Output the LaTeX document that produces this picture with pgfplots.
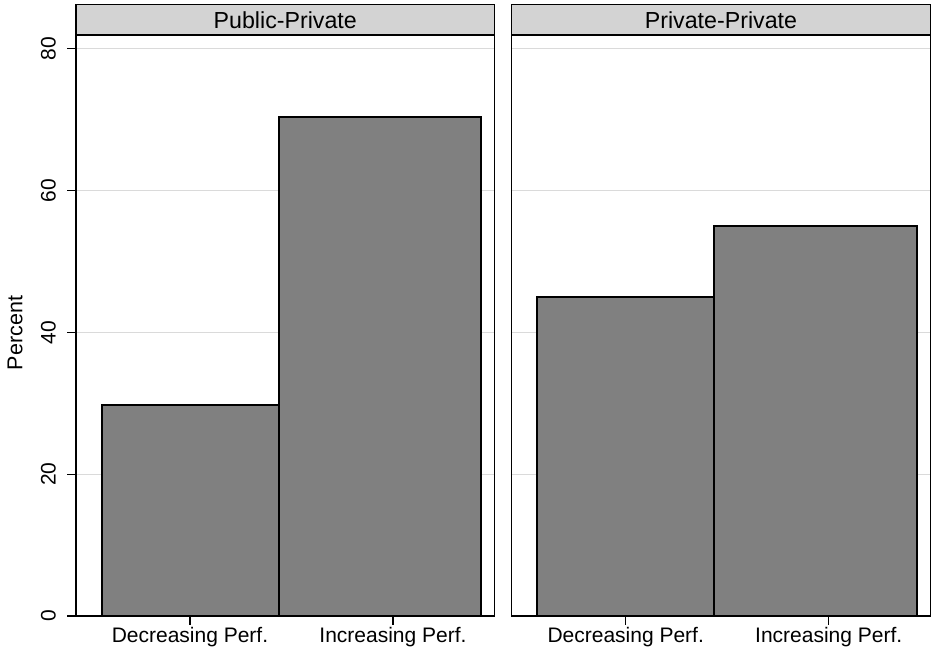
\documentclass[border=0pt]{standalone}
\usepackage{fontspec}
\setmainfont{Liberation Sans}
\usepackage{pgfplots}
\pgfplotsset{compat=1.18}
\definecolor{barfill}{RGB}{128,128,128}
\definecolor{headfill}{RGB}{211,211,211}
\definecolor{gridc}{RGB}{218,218,218}
\begin{document}
\begin{tikzpicture}
\useasboundingbox (-38pt,-17.5pt) rectangle (429.5pt,308pt);
\pgfplotsset{
  panel/.style={
    scale only axis, width=209.25pt, height=290.5pt,
    xmin=0, xmax=418.5, ymin=0, ymax=81.93,
    axis line style={black, line width=0.7pt},
    ytick={0,20,40,60,80},
    ymajorgrids, grid style={gridc, line width=0.6pt},
    xtick={114,317}, xticklabels={Decreasing Perf., Increasing Perf.},
    tick align=outside, major tick length=4.5pt,
    tick style={black, line width=0.6pt},
    tick pos=left,
    /pgf/number format/assume math mode=true,
    ticklabel style={font=\fontsize{10.5}{12}\selectfont},
    xticklabel style={inner sep=1pt},
    yticklabel style={rotate=90, anchor=south},
    yticklabel shift=2pt,
    clip=false,
  },
  bars/.style={ybar, bar shift=0pt, fill=barfill, draw=black, line width=1pt},
}
% Left panel
\begin{axis}[panel,
  ylabel={Percent},
  every axis y label/.style={at={([xshift=-30.5pt]axis description cs:0,0.487)}, rotate=90, anchor=center, font=\fontsize{10.75}{12}\selectfont},
]
\addplot[bars, bar width=177] coordinates {(114,29.7)};
\addplot[bars, bar width=202.5] coordinates {(303.75,70.3)};
\draw[fill=headfill, draw=black, line width=0.7pt] (rel axis cs:0,1) rectangle ([yshift=15.15pt]rel axis cs:1,1);
\node[font=\fontsize{11.6}{13}\selectfont] at ([yshift=7.6pt]rel axis cs:0.5,1) {Public-Private};
\end{axis}
% Right panel
\begin{axis}[panel, at={(217.85pt,0pt)},
  yticklabels={}, ytick style={draw=none},
]
\addplot[bars, bar width=177] coordinates {(114,45)};
\addplot[bars, bar width=202.5] coordinates {(303.75,55)};
\draw[fill=headfill, draw=black, line width=0.7pt] (rel axis cs:0,1) rectangle ([yshift=15.15pt]rel axis cs:1,1);
\node[font=\fontsize{11.6}{13}\selectfont] at ([yshift=7.6pt]rel axis cs:0.5,1) {Private-Private};
\end{axis}
\end{tikzpicture}
\end{document}
